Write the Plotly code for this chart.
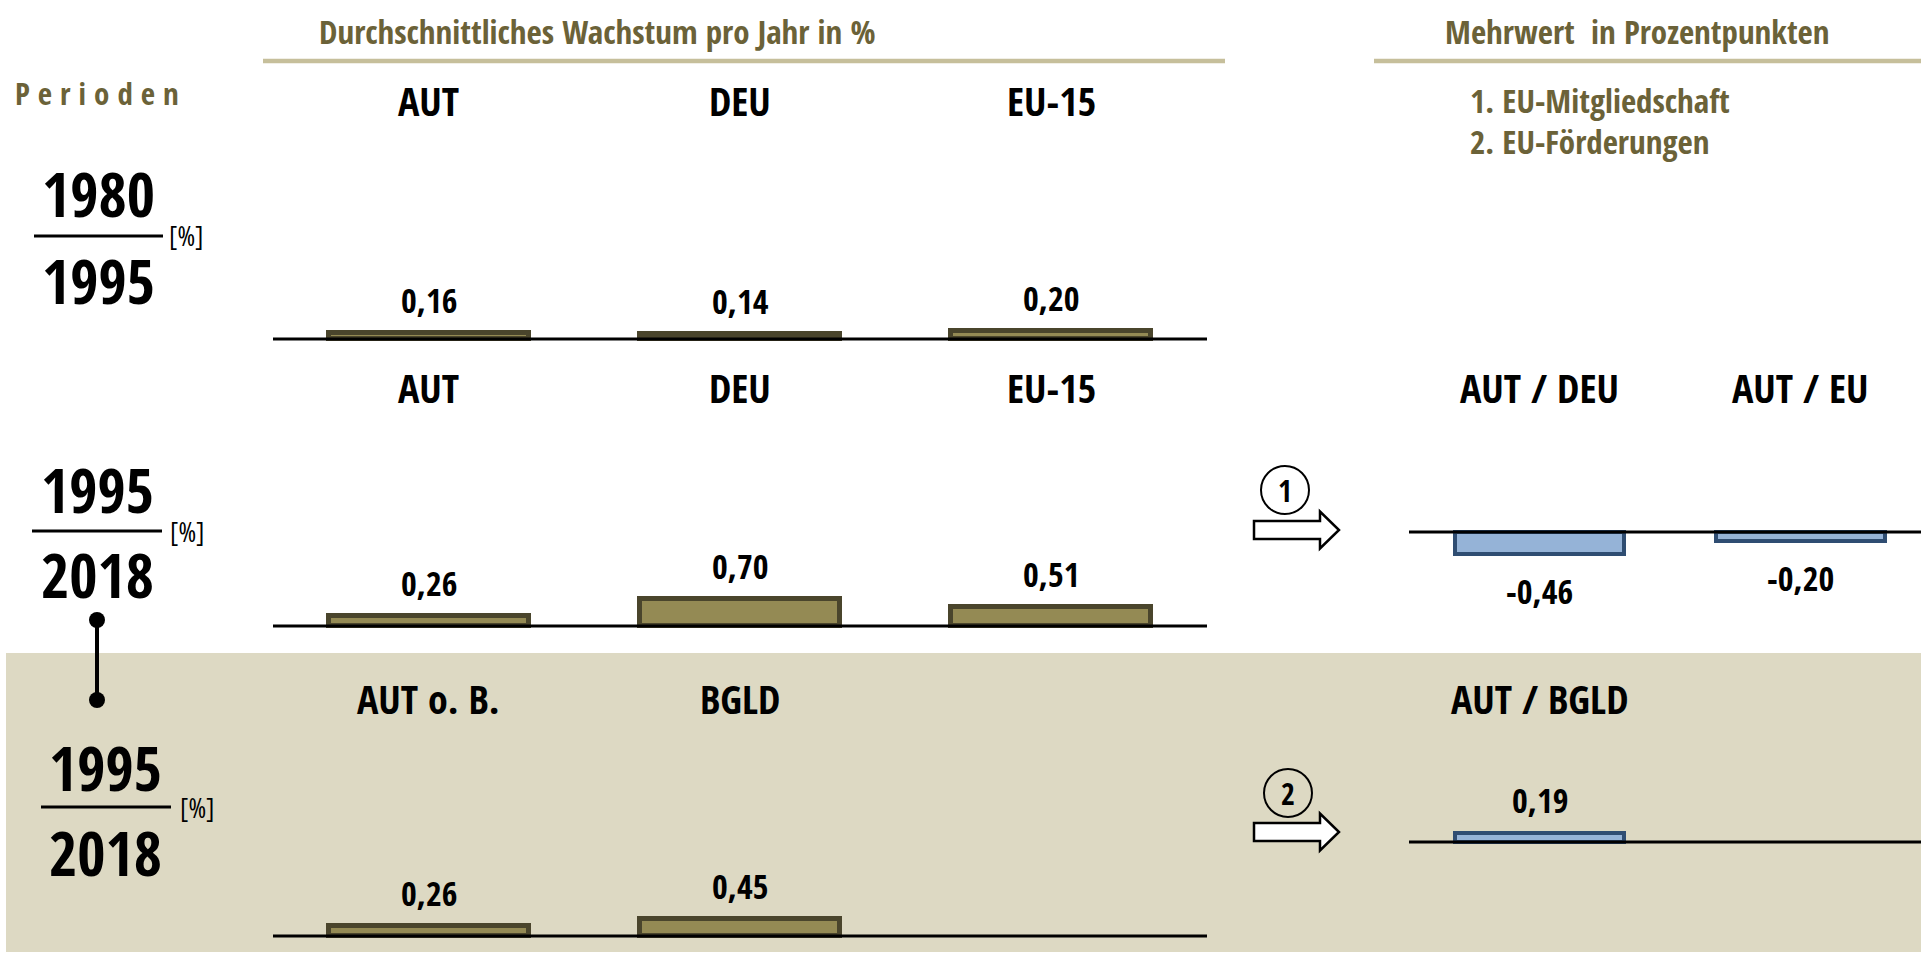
import plotly.graph_objects as go

# ---------------- data ----------------
cats_p1 = ["AUT", "DEU", "EU-15"]
vals_p1 = [0.16, 0.14, 0.20]
cats_p2 = ["AUT", "DEU", "EU-15"]
vals_p2 = [0.26, 0.70, 0.51]
cats_p3 = ["AUT o. B.", "BGLD"]
vals_p3 = [0.26, 0.45]
cats_r1 = ["AUT / DEU", "AUT / EU"]
vals_r1 = [-0.46, -0.20]
cats_r2 = ["AUT / BGLD"]
vals_r2 = [0.19]
period_from = ["1980", "1995", "1995"]
period_to = ["1995", "2018", "2018"]
header_left = "Durchschnittliches Wachstum pro Jahr in %"
header_right = "Mehrwert  in Prozentpunkten"
legend_lines = ["1. EU-Mitgliedschaft", "2. EU-Förderungen"]
circle_nums = ["1", "2"]

# ---------------- style ----------------
W, H = 1921, 955
NARROW = "Open Sans Condensed, Roboto Condensed, Liberation Sans Narrow, sans-serif"
OLIVE_TXT = "#6B6238"
OLIVE_FILL = "#948A54"
OLIVE_LINE = "#4A452C"
TAN_LINE = "#C6BF9B"
BEIGE = "#DDD9C3"
BLUE_FILL = "#95B3D7"
BLUE_LINE = "#2F4D72"


def PX(x):
    return x / W


def PY(y):
    return 1 - y / H


def fmt(v):
    return f"{v:.2f}".replace(".", ",")


fig = go.Figure()
shapes = []
annotations = []

# background band for third period
shapes.append(dict(type="rect", xref="paper", yref="paper", x0=PX(6), x1=1, y0=PY(952), y1=PY(653),
                   fillcolor=BEIGE, line=dict(width=0), layer="below"))

# panels: (axis idx, cats, vals, baseline px, x-domain px, x-range, px/unit, label y px,
#          fill, border, border width, bar width)
panels = [
    (1, cats_p1, vals_p1, 339, (273, 1207), [-0.5, 2.5], 38, 100, OLIVE_FILL, OLIVE_LINE, 5, 0.643),
    (2, cats_p2, vals_p2, 626, (273, 1207), [-0.5, 2.5], 38, 388, OLIVE_FILL, OLIVE_LINE, 5, 0.643),
    (3, cats_p3, vals_p3, 936, (273, 1207), [-0.5, 2.5], 38, 698, OLIVE_FILL, OLIVE_LINE, 5, 0.643),
    (4, cats_r1, vals_r1, 532, (1409, 1921), [-0.5, 1.46], 47, 388, BLUE_FILL, BLUE_LINE, 4, 0.647),
    (5, cats_r2, vals_r2, 842, (1409, 1921), [-0.5, 1.46], 47, 698, BLUE_FILL, BLUE_LINE, 4, 0.647),
]

for idx, cats, vals, base, (xa, xb), xr, ppu, laby, fc, lc, lw, bw in panels:
    sfx = "" if idx == 1 else str(idx)
    up = 150
    down = min(40, H - base)
    fig.add_trace(go.Bar(
        x=cats, y=vals, xaxis="x" + sfx, yaxis="y" + sfx,
        width=bw, marker=dict(color=fc, line=dict(color=lc, width=lw)),
        showlegend=False, hoverinfo="skip",
    ))
    fig.update_layout(**{
        "xaxis" + sfx: dict(domain=[PX(xa), PX(xb)], range=xr, type="category",
                             categoryorder="array", categoryarray=cats,
                             showticklabels=False, showgrid=False, zeroline=False,
                             showline=False, anchor="y" + sfx, fixedrange=True),
        "yaxis" + sfx: dict(domain=[PY(base + down), PY(base - up)],
                             range=[-down / ppu, up / ppu],
                             showticklabels=False, showgrid=False, zeroline=False,
                             showline=False, anchor="x" + sfx, fixedrange=True),
    })
    xref = "x" + sfx
    yref = "y" + sfx
    # baseline
    shapes.append(dict(type="line", xref=xref + " domain", yref=yref, x0=0, x1=1, y0=0, y1=0,
                       line=dict(color="black", width=3), layer="above"))
    for c, v in zip(cats, vals):
        # category label
        annotations.append(dict(x=c, xref=xref, y=PY(laby), yref="paper", text=c, showarrow=False,
                                xanchor="center", yanchor="middle",
                                font=dict(family=NARROW, size=40, color="black", weight="bold")))
        # value label
        annotations.append(dict(x=c, xref=xref, y=v, yref=yref, text=fmt(v), showarrow=False,
                                xanchor="center", yanchor="middle",
                                yshift=33 if v >= 0 else -37,
                                font=dict(family=NARROW, size=34, color="black", weight="bold")))

# headers
annotations.append(dict(x=PX(597), y=PY(31), xref="paper", yref="paper", text=header_left,
                        showarrow=False, xanchor="center", yanchor="middle",
                        font=dict(family=NARROW, size=33, color=OLIVE_TXT, weight=600)))
annotations.append(dict(x=PX(1637), y=PY(31), xref="paper", yref="paper", text=header_right,
                        showarrow=False, xanchor="center", yanchor="middle",
                        font=dict(family=NARROW, size=33, color=OLIVE_TXT, weight=600)))
shapes.append(dict(type="line", xref="paper", yref="paper", x0=PX(263), x1=PX(1225), y0=PY(61), y1=PY(61),
                   line=dict(color=TAN_LINE, width=4.5)))
shapes.append(dict(type="line", xref="paper", yref="paper", x0=PX(1374), x1=1, y0=PY(61), y1=PY(61),
                   line=dict(color=TAN_LINE, width=4.5)))
for t, yy in zip(legend_lines, [100, 142]):
    annotations.append(dict(x=PX(1468), y=PY(yy), xref="paper", yref="paper", text=t,
                            showarrow=False, xanchor="left", yanchor="middle",
                            font=dict(family=NARROW, size=33, color=OLIVE_TXT, weight=600)))

annotations.append(dict(x=PX(13), y=PY(93), xref="paper", yref="paper",
                        text='<span style="letter-spacing:8px">Perioden</span>',
                        showarrow=False, xanchor="left", yanchor="middle",
                        font=dict(family=NARROW, size=31, color=OLIVE_TXT, weight="bold")))

# period fractions
frac_layout = [  # (cx, top y, line y, bottom y, line x0, line x1, pct x)
    (98, 194, 236, 281, 34, 163, 167),
    (97, 489, 531, 574, 32, 162, 168),
    (105, 767, 807, 852, 41, 171, 178),
]
for (a, b), (cx, yt, yl, yb, lx0, lx1, pcx) in zip(zip(period_from, period_to), frac_layout):
    annotations.append(dict(x=PX(cx), y=PY(yt), xref="paper", yref="paper", text=a, showarrow=False,
                            xanchor="center", yanchor="middle",
                            font=dict(family=NARROW, size=61, color="black", weight="bold")))
    annotations.append(dict(x=PX(cx), y=PY(yb), xref="paper", yref="paper", text=b, showarrow=False,
                            xanchor="center", yanchor="middle",
                            font=dict(family=NARROW, size=61, color="black", weight="bold")))
    shapes.append(dict(type="line", xref="paper", yref="paper", x0=PX(lx0), x1=PX(lx1), y0=PY(yl), y1=PY(yl),
                       line=dict(color="black", width=3)))
    annotations.append(dict(x=PX(pcx), y=PY(yl), xref="paper", yref="paper",
                            text='<span style="font-stretch:condensed">[%]</span>', showarrow=False,
                            xanchor="left", yanchor="middle",
                            font=dict(family="Open Sans", size=27, color="black", weight=400)))

# connector between period 2 and 3
shapes.append(dict(type="line", xref="paper", yref="paper", x0=PX(97), x1=PX(97), y0=PY(620), y1=PY(700),
                   line=dict(color="black", width=4)))
for cy in (620, 700):
    shapes.append(dict(type="circle", xref="paper", yref="paper", x0=PX(89), x1=PX(105),
                       y0=PY(cy + 8), y1=PY(cy - 8), fillcolor="black", line=dict(width=0)))

# arrows with circled numbers
for num, cy, ccx, ccy in zip(circle_nums, [530, 832], [1285, 1288], [490, 793]):
    x0, xh, xt = 1254, 1320, 1339
    sh, hh = 9, 18.5
    pts = [(x0, cy - sh), (xh, cy - sh), (xh, cy - hh), (xt, cy), (xh, cy + hh), (xh, cy + sh), (x0, cy + sh)]
    path = "M " + " L ".join(f"{PX(px):.5f},{PY(py):.5f}" for px, py in pts) + " Z"
    shapes.append(dict(type="path", xref="paper", yref="paper", path=path,
                       fillcolor="white", line=dict(color="black", width=2.5)))
    shapes.append(dict(type="circle", xref="paper", yref="paper", x0=PX(ccx - 24), x1=PX(ccx + 24),
                       y0=PY(ccy + 24), y1=PY(ccy - 24), fillcolor="rgba(0,0,0,0)",
                       line=dict(color="black", width=2)))
    annotations.append(dict(x=PX(ccx), y=PY(ccy), xref="paper", yref="paper", text=num, showarrow=False,
                            xanchor="center", yanchor="middle",
                            font=dict(family=NARROW, size=30, color="black", weight="bold")))

fig.update_layout(
    width=W, height=H, margin=dict(l=0, r=0, t=0, b=0),
    paper_bgcolor="white", plot_bgcolor="rgba(0,0,0,0)",
    shapes=shapes, annotations=annotations, bargap=0, showlegend=False,
)

fig.write_html("out.html", config={"displayModeBar": False})
